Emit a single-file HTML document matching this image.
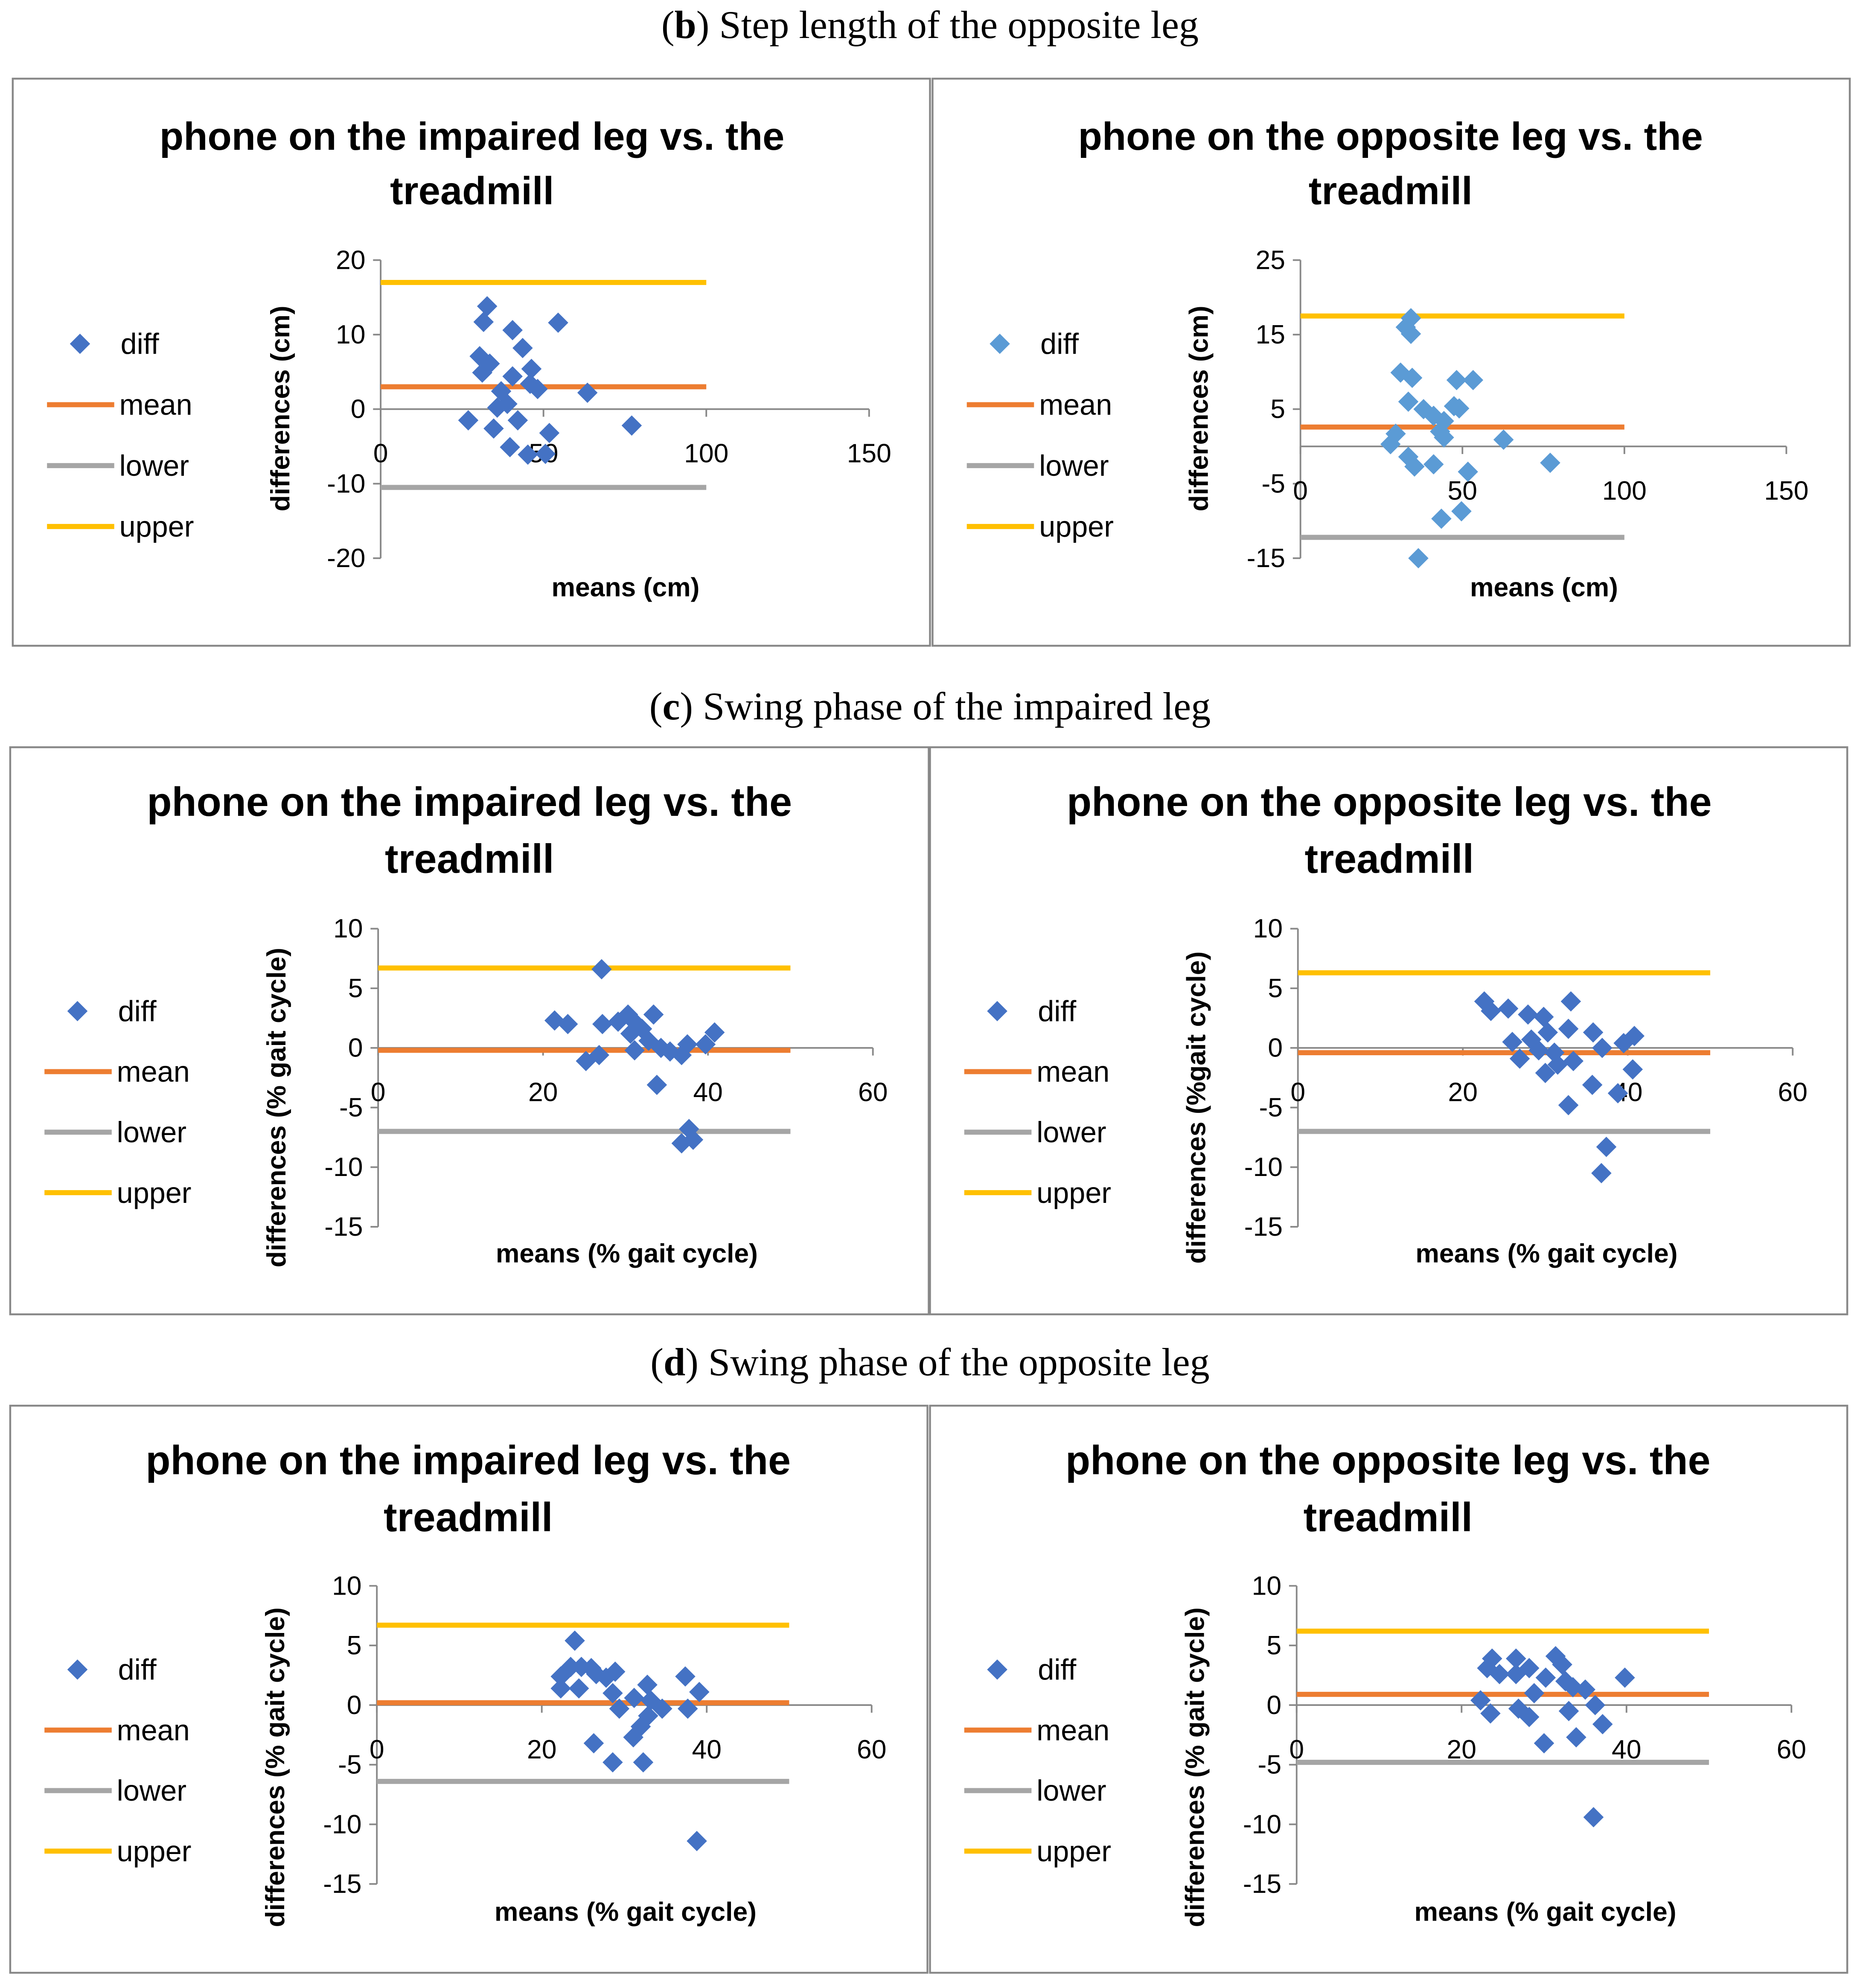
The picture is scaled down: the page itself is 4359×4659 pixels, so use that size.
<!DOCTYPE html>
<html><head><meta charset="utf-8"><style>
html,body{margin:0;padding:0;background:#fff;}
svg{display:block;}
text{font-family:"Liberation Sans",sans-serif;}
.cap{font-family:"Liberation Serif",serif;font-size:31px;fill:#000;}
</style></head><body>
<svg id="root" xmlns="http://www.w3.org/2000/svg" width="4359" height="4659" viewBox="0 0 1466 1567">
<text class="cap" x="733" y="30" text-anchor="middle">(<tspan font-weight="bold">b</tspan>) Step length of the opposite leg</text>
<text class="cap" x="733" y="567" text-anchor="middle">(<tspan font-weight="bold">c</tspan>) Swing phase of the impaired leg</text>
<text class="cap" x="733" y="1084" text-anchor="middle">(<tspan font-weight="bold">d</tspan>) Swing phase of the opposite leg</text>
</svg>
<script>
// Chart data (means, differences, limits)
const c1X=[32.7,31.6,30.4,31.2,33.5,40.5,43.6,46.3,48.2,45.9,40.5,37,35.8,38.9,42.1,34.7,26.9,39.7,45.2,51.8,50.6,54.5,63.5,77.1];
const c1Y=[13.8,11.7,7.1,4.9,6.1,10.6,8.2,5.4,2.7,3.4,4.4,2.4,0.2,0.7,-1.5,-2.6,-1.5,-5.1,-6.1,-3.2,-6,11.6,2.2,-2.2];
const c1Lim=[3,-10.5,17];
const c2X=[34.1,32.5,34.1,30.9,34.5,33.3,38,41.1,44.3,47.4,49,48.2,53.3,29.4,27.8,33.3,35.2,41.1,44.3,43.1,62.7,51.7,77.1,43.5,49.7,36.4];
const c2Y=[17.2,16,15.1,9.9,9.2,6,5,4.1,3.4,5.4,5.1,8.9,8.9,1.7,0.3,-1.4,-2.7,-2.4,1.2,2,0.9,-3.4,-2.2,-9.7,-8.7,-15];
const c2Lim=[2.6,-12.2,17.5];
const c3X=[27.1,21.4,23,27.2,29.1,30.3,31.2,32,33.4,31.1,32.8,34.3,35.4,36.8,37.5,39.7,40.8,25.2,26.8,33.8,36.8,38.2,37.7,30.6];
const c3Y=[6.6,2.3,2,2,2.2,2.8,2.1,1.6,2.8,-0.2,0.6,0,-0.3,-0.6,0.3,0.3,1.3,-1.1,-0.6,-3.1,-8,-7.7,-6.8,1.2];
const c3Lim=[-0.2,-7,6.7];
const c4X=[22.6,23.4,25.5,27.9,29.8,33.1,26,26.9,28.3,29.2,30.3,31.1,30,31.5,32.8,33.4,35.8,36.9,39.5,40.8,40.6,38.8,35.7,32.8,37.4,36.8];
const c4Y=[3.9,3.1,3.3,2.8,2.6,3.9,0.5,-0.9,0.7,-0.2,1.3,-0.4,-2.1,-1.4,1.6,-1.1,1.3,0,0.4,1,-1.8,-3.8,-3.1,-4.8,-8.3,-10.5];
const c4Lim=[-0.4,-7,6.3];
const c5X=[24,22.3,23.5,24.8,26,26.6,27.8,28.9,22.3,24.5,28.6,29.4,31.2,32.8,33.2,32.9,32,31.1,34.6,26.3,28.6,32.3,37.4,39.1,37.7,38.8];
const c5Y=[5.4,2.4,3.2,3.2,3.1,2.6,2.3,2.8,1.4,1.4,1,-0.3,0.6,1.7,0.4,-0.9,-1.8,-2.7,-0.3,-3.2,-4.8,-4.8,2.4,1.1,-0.3,-11.4];
const c5Lim=[0.2,-6.4,6.7];
const c6X=[23.7,23.1,24.6,26.6,26.6,28.2,30.2,31.4,32.2,32.6,33.5,35,28.8,22.3,23.5,26.9,28.2,33,36.2,37.1,33.9,30,39.8,36];
const c6Y=[3.9,3.1,2.6,3.9,2.6,3.1,2.3,4.1,3.4,2,1.5,1.3,1,0.4,-0.7,-0.3,-1,-0.5,0,-1.6,-2.7,-3.2,2.3,-9.4];
const c6Lim=[0.9,-4.8,6.2];
const yTicks1=[20,10,0,-10,-20], yTicks2=[25,15,5,-5,-15], yTicks3=[10,5,0,-5,-10,-15];
const xTicks1=[0,50,100,150], xTicks3=[0,20,40,60];

const NS="http://www.w3.org/2000/svg";
const root=document.getElementById('root');
function mk(tag,attrs,parent,txt){const e=document.createElementNS(NS,tag);for(const k in attrs)e.setAttribute(k,attrs[k]);if(txt!==undefined)e.textContent=txt;parent.appendChild(e);return e;}

function chart(c){
  const g=mk('g',{},root);
  
  
  const box=mk('rect',{x:c.bx,y:c.by,width:c.bw,height:447,fill:'#fff',stroke:'#888','stroke-width':1.5},g);
  
  
  const t=mk('text',{x:c.tcx,y:c.ty,'text-anchor':'middle','font-size':c.tfs,'font-weight':'bold',fill:'#000'},g);
  
  
  mk('tspan',{x:c.tcx,dy:0},t,c.title1);
  mk('tspan',{x:c.tcx,dy:c.tgap},t,'treadmill');
  const xMin=c.xt[0],xMax=c.xt[c.xt.length-1];
  const yMax=c.yt[0],yMin=c.yt[c.yt.length-1];
  const sx=v=>c.x0+(v-xMin)/(xMax-xMin)*(c.x1-c.x0);
  const sy=v=>c.yTop+(yMax-v)/(yMax-yMin)*(c.yBot-c.yTop);
  const ya=mk('line',{x1:c.x0,x2:c.x0,y1:c.yTop,y2:c.yBot,stroke:'#888','stroke-width':1.3},g);
  
  
  const xa=mk('line',{x1:c.x0,x2:c.x1,y1:sy(0),y2:sy(0),stroke:'#888','stroke-width':1.3},g);
  
  
  c.yt.forEach(v=>{
    mk('line',{x1:c.x0-6,x2:c.x0,y1:sy(v),y2:sy(v),stroke:'#888','stroke-width':1.3},g);
    const tl=mk('text',{x:c.x0-12,y:sy(v)+7,'text-anchor':'end','font-size':21,fill:'#000'},g,String(v));
    
    
  });
  c.xt.forEach(v=>{
    mk('line',{x1:sx(v),x2:sx(v),y1:sy(0),y2:sy(0)+6,stroke:'#888','stroke-width':1.3},g);
    const tl=mk('text',{x:sx(v),y:sy(0)+42,'text-anchor':'middle','font-size':21,fill:'#000'},g,String(v));
    
    
  });
  const cols=['#ed7d31','#a5a5a5','#ffc000'], names=['mean-line','lower-line','upper-line'];
  c.lim.forEach((v,i)=>{
    const l=mk('line',{x1:sx(0),x2:sx(c.lineEnd),y1:sy(v),y2:sy(v),stroke:cols[i],'stroke-width':4},g);
    
    
  });
  c.X.forEach((xv,i)=>{
    const px=sx(xv),py=sy(c.Y[i]),r=8;
    const p=mk('polygon',{points:`${px},${py-r} ${px+r},${py} ${px},${py+r} ${px-r},${py}`,fill:c.col},g);
    
    
  });
  const yl=mk('text',{x:0,y:0,transform:`translate(${c.ylx},${c.lcy}) rotate(-90)`,'text-anchor':'middle','font-size':21,'font-weight':'bold',fill:'#000'},g,c.ylab);
  
  
  const xl=mk('text',{x:c.xlx,y:c.xly,'text-anchor':'middle','font-size':21,'font-weight':'bold',fill:'#000'},g,c.xlab);
  
  
  const lx=c.bx+27, ly=c.ly;
  const lg=mk('g',{},g);
  
  
  const m=lx+26,r=8;
  const d=mk('polygon',{points:`${m},${ly-r} ${m+r},${ly} ${m},${ly+r} ${m-r},${ly}`,fill:c.col},lg);
  
  
  mk('text',{x:lx+58,y:ly+8,'font-size':23,fill:'#000'},lg,'diff');
  ['mean','lower','upper'].forEach((n,i)=>{
    const yy=ly+(i+1)*c.lstep;
    const l=mk('line',{x1:lx,x2:lx+53,y1:yy,y2:yy,stroke:cols[i],'stroke-width':4},lg);
    
    
    mk('text',{x:lx+57,y:yy+8,'font-size':23,fill:'#000'},lg,n);
  });
}
const T1='phone on the impaired leg vs. the', T2='phone on the opposite leg vs. the';
chart({name:'chart-b-impaired',bx:10,by:62,bw:723,tcx:372,ty:118,tgap:43,tfs:31,title1:T1,x0:300,x1:685,yTop:205,yBot:440,xt:xTicks1,yt:yTicks1,lim:c1Lim,lineEnd:100,X:c1X,Y:c1Y,col:'#4472c4',ylx:228,lcy:322,ylab:'differences (cm)',xlx:493,xly:470,xlab:'means (cm)',ly:271,lstep:48});
chart({name:'chart-b-opposite',bx:735,by:62,bw:723,tcx:1096,ty:118,tgap:43,tfs:31,title1:T2,x0:1025,x1:1408,yTop:205,yBot:440,xt:xTicks1,yt:yTicks2,lim:c2Lim,lineEnd:100,X:c2X,Y:c2Y,col:'#5b9bd5',ylx:952,lcy:322,ylab:'differences (cm)',xlx:1217,xly:470,xlab:'means (cm)',ly:271,lstep:48});
chart({name:'chart-c-impaired',bx:8,by:589,bw:724,tcx:370,ty:643,tgap:45,tfs:32,title1:T1,x0:298,x1:688,yTop:732,yBot:967,xt:xTicks3,yt:yTicks3,lim:c3Lim,lineEnd:50,X:c3X,Y:c3Y,col:'#4472c4',ylx:225,lcy:873,ylab:'differences (% gait cycle)',xlx:494,xly:995,xlab:'means (% gait cycle)',ly:797,lstep:47.7});
chart({name:'chart-c-opposite',bx:733,by:589,bw:723,tcx:1095,ty:643,tgap:45,tfs:32,title1:T2,x0:1023,x1:1413,yTop:732,yBot:967,xt:xTicks3,yt:yTicks3,lim:c4Lim,lineEnd:50,X:c4X,Y:c4Y,col:'#4472c4',ylx:950,lcy:873,ylab:'differences (%gait cycle)',xlx:1219,xly:995,xlab:'means (% gait cycle)',ly:797,lstep:47.7});
chart({name:'chart-d-impaired',bx:8,by:1108,bw:723,tcx:369,ty:1162,tgap:45,tfs:32,title1:T1,x0:297,x1:687,yTop:1250,yBot:1485,xt:xTicks3,yt:yTicks3,lim:c5Lim,lineEnd:50,X:c5X,Y:c5Y,col:'#4472c4',ylx:224,lcy:1393,ylab:'differences (% gait cycle)',xlx:493,xly:1514,xlab:'means (% gait cycle)',ly:1316,lstep:47.7});
chart({name:'chart-d-opposite',bx:733,by:1108,bw:723,tcx:1094,ty:1162,tgap:45,tfs:32,title1:T2,x0:1022,x1:1412,yTop:1250,yBot:1485,xt:xTicks3,yt:yTicks3,lim:c6Lim,lineEnd:50,X:c6X,Y:c6Y,col:'#4472c4',ylx:949,lcy:1393,ylab:'differences (% gait cycle)',xlx:1218,xly:1514,xlab:'means (% gait cycle)',ly:1316,lstep:47.7});
</script>
</body></html>
